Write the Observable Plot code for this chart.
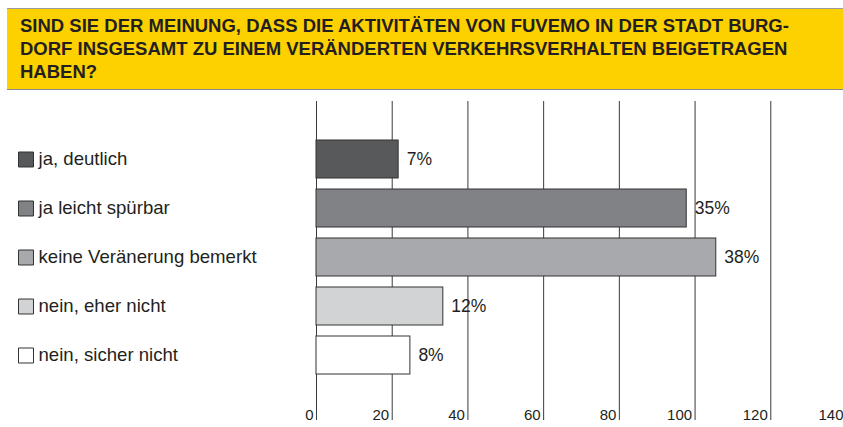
<!DOCTYPE html>
<html>
<head>
<meta charset="utf-8">
<script src="https://cdn.jsdelivr.net/npm/d3@7"></script>
<script src="https://cdn.jsdelivr.net/npm/@observablehq/plot@0.6"></script>
<style>
  html, body { margin: 0; padding: 0; background: #fff; }
  body { width: 843px; height: 427px; overflow: hidden; font-family: "Liberation Sans", Arial, Helvetica, sans-serif; }
  #banner {
    margin-top: 8px; margin-left: 7px; height: 82px; box-sizing: border-box;
    background: #fdd000; border-top: 1px solid #9a9a9a; border-bottom: 1px solid #8a8a8a;
    padding: 5px 0 0 13px; font-weight: bold; font-size: 18.5px; line-height: 23px; color: #231f20;
    white-space: nowrap;
  }
  #chart svg { display: block; }
</style>
</head>
<body>
<div id="banner"></div>
<div id="chart"></div>
<script>
const titleLines = [
  "SIND SIE DER MEINUNG, DASS DIE AKTIVITÄTEN VON FUVEMO IN DER STADT BURG-",
  "DORF INSGESAMT ZU EINEM VERÄNDERTEN VERKEHRSVERHALTEN BEIGETRAGEN",
  "HABEN?"
];
const categories = ["ja, deutlich", "ja leicht spürbar", "keine Veränerung bemerkt", "nein, eher nicht", "nein, sicher nicht"];
const values = [21.7, 97.8, 105.6, 33.5, 24.8];
const percentLabels = ["7%", "35%", "38%", "12%", "8%"];
const colors = ["#58595b", "#808285", "#a7a9ac", "#d1d3d4", "#ffffff"];
const xTicks = [0, 20, 40, 60, 80, 100, 120, 140];
const gridTicks = [0, 20, 40, 60, 80, 100, 120];

document.getElementById("banner").innerHTML = titleLines.join("<br>");

const data = categories.map((c, i) => ({cat: c, value: values[i], label: percentLabels[i], color: colors[i]}));

const chart = Plot.plot({
  width: 843,
  height: 337,
  marginTop: 11,
  marginBottom: 7,
  marginLeft: 0,
  marginRight: 0,
  style: {fontFamily: '"Liberation Sans", Arial, Helvetica, sans-serif', background: "#fff", color: "#231f20"},
  x: {domain: [0, 140], range: [316, 846], axis: null},
  y: {domain: categories, range: [44.5, 289.5], paddingInner: 0.224, paddingOuter: 0.112, axis: null},
  marks: [
    Plot.gridX(gridTicks, {stroke: "#3a3a3a", strokeOpacity: 1, strokeWidth: 1}),
    Plot.barX(data, {y: "cat", x: "value", fill: "color", stroke: "#333", strokeWidth: 1}),
    Plot.text(data, {y: "cat", x: "value", text: "label", textAnchor: "start", dx: 8, fontSize: 17.5, fill: "#231f20"}),
    Plot.dot(data, {y: "cat", frameAnchor: "left", dx: 25.5, symbol: "square", r: 8.46, fill: "color", stroke: "#333", strokeWidth: 1}),
    Plot.text(data, {y: "cat", text: "cat", frameAnchor: "left", dx: 38, textAnchor: "start", fontSize: 18.6, fill: "#231f20"}),
    Plot.text(xTicks, {x: d => d, text: d => String(d), frameAnchor: "bottom", lineAnchor: "bottom", dy: -1, dx: -3, textAnchor: "end", fontSize: 15, fill: "#231f20"})
  ]
});
document.getElementById("chart").appendChild(chart);
</script>
</body>
</html>
